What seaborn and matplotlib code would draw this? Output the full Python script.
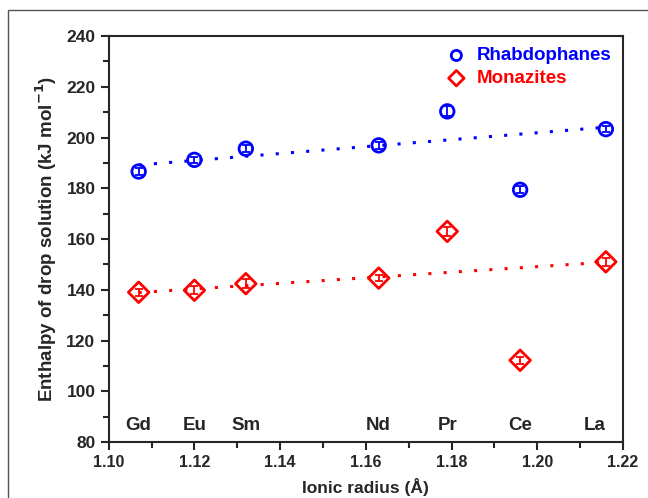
import numpy as np
import pandas as pd
import matplotlib
matplotlib.use('Agg')
import matplotlib.pyplot as plt
import seaborn as sns
from matplotlib.patches import Rectangle
from matplotlib.ticker import MultipleLocator

# ionic radius (A) and enthalpy of drop solution (kJ/mol)
elements = ['Gd', 'Eu', 'Sm', 'Nd', 'Pr', 'Ce', 'La']
radius = [1.107, 1.120, 1.132, 1.163, 1.179, 1.196, 1.216]
rhabdophanes = [186.6, 191.2, 195.6, 196.9, 210.3, 179.4, 203.3]
rhabdo_err = [1.5, 1.3, 1.3, 1.5, 2.0, 1.3, 1.3]
monazites = [139.0, 139.8, 142.4, 144.6, 163.0, 112.2, 151.0]
monaz_err = [1.3, 1.5, 1.8, 1.3, 1.8, 1.5, 1.5]
# Pr and Ce are left out of the linear fits
fit_mask = [True, True, True, True, False, False, True]

df = pd.DataFrame({'element': elements, 'radius': radius,
                   'rh': rhabdophanes, 'rh_err': rhabdo_err,
                   'mo': monazites, 'mo_err': monaz_err, 'fit': fit_mask})
fit_df = df[df['fit']]

sns.set_style('ticks')
plt.rcParams['font.family'] = ['Liberation Sans', 'DejaVu Sans']
plt.rcParams['font.weight'] = 'bold'

fig = plt.figure(figsize=(6.48, 4.98), dpi=100)
ax = fig.add_axes([0.1677, 0.1124, 0.7937, 0.8153])

blue = '#0000ff'
red = '#ff0000'

sns.regplot(data=fit_df, x='radius', y='rh', scatter=False, ci=None, ax=ax,
            line_kws=dict(color=blue, ls=(0, (1, 4)), lw=2.2))
sns.regplot(data=fit_df, x='radius', y='mo', scatter=False, ci=None, ax=ax,
            line_kws=dict(color=red, ls=(0, (1, 4)), lw=2.2))

ax.errorbar(df['radius'], df['rh'], yerr=df['rh_err'], fmt='none',
            ecolor=blue, elinewidth=1.3, capsize=3, capthick=1.3)
ax.errorbar(df['radius'], df['mo'], yerr=df['mo_err'], fmt='none',
            ecolor=red, elinewidth=1.3, capsize=3, capthick=1.3)

sns.scatterplot(data=df, x='radius', y='rh', marker='o', s=95,
                facecolor='none', edgecolor=blue, linewidth=2, ax=ax,
                label='Rhabdophanes', zorder=3)
sns.scatterplot(data=df, x='radius', y='mo', marker='D', s=110,
                facecolor='none', edgecolor=red, linewidth=2, ax=ax,
                label='Monazites', zorder=3)

for el, r in zip(elements, radius):
    xt = min(r, 1.2135)
    ax.text(xt, 86.5, el, ha='center', va='center', fontsize=13.5,
            fontweight='bold')

ax.set_xlim(1.10, 1.22)
ax.set_ylim(80, 240)
ax.xaxis.set_major_locator(MultipleLocator(0.02))
ax.xaxis.set_minor_locator(MultipleLocator(0.01))
ax.yaxis.set_major_locator(MultipleLocator(20))
ax.yaxis.set_minor_locator(MultipleLocator(10))
ax.xaxis.set_major_formatter(matplotlib.ticker.FormatStrFormatter('%.2f'))
ax.tick_params(which='major', length=6, width=1.5, direction='out')
ax.tick_params(which='minor', length=4, width=1.5, direction='out')
ax.tick_params(axis='x', labelsize=11.5)
ax.tick_params(axis='y', labelsize=12.5)
for lbl in ax.get_xticklabels() + ax.get_yticklabels():
    lbl.set_fontweight('bold')
for sp in ax.spines.values():
    sp.set_linewidth(1.5)
    sp.set_visible(True)

ax.set_xlabel('Ionic radius (Å)', fontsize=12.5, fontweight='bold', labelpad=5.5)
ax.set_ylabel('Enthalpy of drop solution (kJ mol$^{\\mathbf{-1}}$)', fontsize=13.5,
              fontweight='bold', labelpad=5)

leg = ax.legend(loc='upper right', frameon=False, fontsize=13.5,
                handletextpad=0.4, handlelength=1.4, borderaxespad=0.2,
                labelspacing=0.3, markerscale=0.75)
for txt, c in zip(leg.get_texts(), [blue, red]):
    txt.set_color(c)
    txt.set_fontweight('bold')

fig.patches.append(Rectangle((8 / 648, -0.1), 1.2, 1 - 10 / 498 + 0.1,
                             transform=fig.transFigure, fill=False,
                             edgecolor='#555555', lw=1.0))

fig.savefig('out.png', dpi=100)
